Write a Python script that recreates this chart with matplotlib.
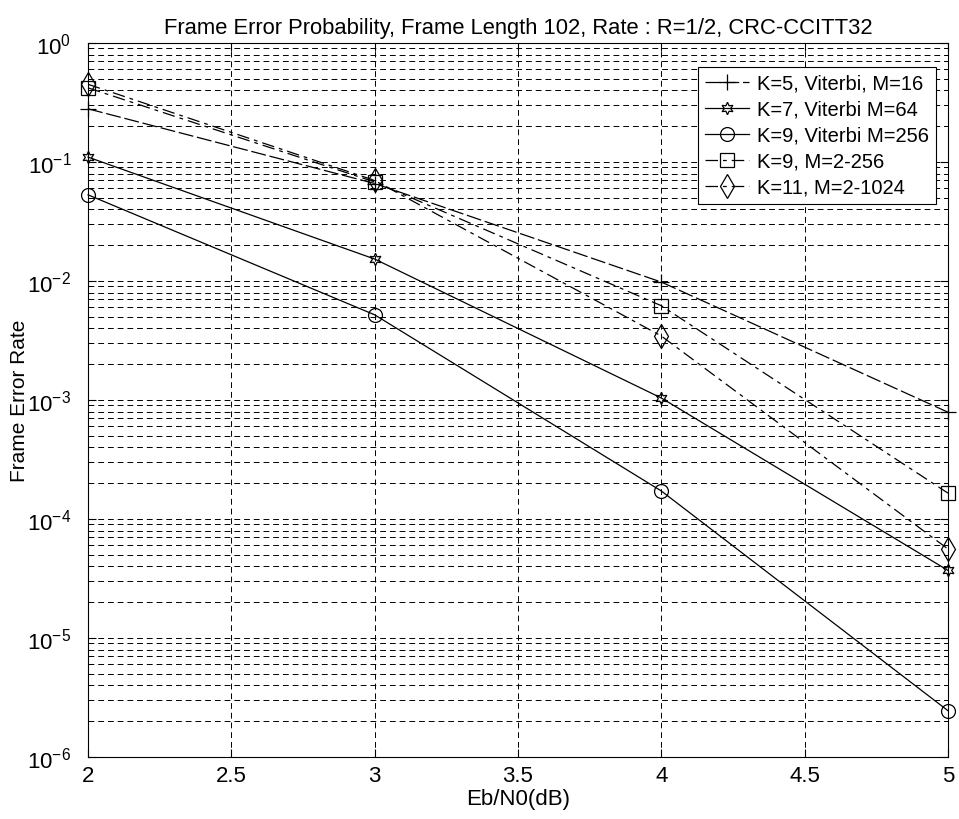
import matplotlib

matplotlib.use("Agg")

import matplotlib.pyplot as plt
import numpy as np
from matplotlib.ticker import LogLocator, NullFormatter

plt.rcParams["font.family"] = ["Liberation Sans", "DejaVu Sans"]

ebn0 = [2, 3, 4, 5]
fer_k5_viterbi = [0.28, 0.066, 0.0098, 7.9e-4]
fer_k7_viterbi = [0.11, 0.0153, 1.04e-3, 3.7e-5]
fer_k9_viterbi = [0.053, 5.2e-3, 1.72e-4, 2.45e-6]
fer_k9_m2_256 = [0.42, 0.068, 6.2e-3, 1.65e-4]
fer_k11_m2_1024 = [0.45, 0.070, 3.45e-3, 5.6e-5]

labels = [
    "K=5, Viterbi, M=16",
    "K=7, Viterbi M=64",
    "K=9, Viterbi M=256",
    "K=9, M=2-256",
    "K=11, M=2-1024",
]

fig = plt.figure(figsize=(9.59, 8.20), dpi=100)
ax = fig.add_axes([0.0918, 0.0756, 0.8967, 0.8707])

common = dict(color="black", linewidth=0.9, markerfacecolor="none",
              markeredgecolor="black", markeredgewidth=0.9, clip_on=False)
dashdot = (0, (10, 4, 3, 4))
ax.plot(ebn0, fer_k5_viterbi, linestyle=(0, (12, 3)), marker="+", markersize=12,
        label=labels[0], **common)
ax.plot(ebn0, fer_k7_viterbi, linestyle="-", marker=(6, 1, 0), markersize=9,
        label=labels[1], **common)
ax.plot(ebn0, fer_k9_viterbi, linestyle="-", marker="o", markersize=10,
        label=labels[2], **common)
ax.plot(ebn0, fer_k9_m2_256, linestyle=dashdot, marker="s", markersize=10,
        label=labels[3], **common)
ax.plot(ebn0, fer_k11_m2_1024, linestyle=dashdot, marker="d", markersize=12,
        label=labels[4], **common)

ax.set_yscale("log")
ax.set_xlim(2, 5)
ax.set_ylim(1e-6, 1)
ax.set_xticks([2, 2.5, 3, 3.5, 4, 4.5, 5])
ax.set_xticklabels(["2", "2.5", "3", "3.5", "4", "4.5", "5"])
ax.yaxis.set_major_locator(LogLocator(base=10, numticks=10))
ax.yaxis.set_minor_locator(LogLocator(base=10, subs=np.arange(2, 10), numticks=20))
ax.yaxis.set_minor_formatter(NullFormatter())

ax.grid(True, which="major", axis="both", color="black", linestyle=(0, (6, 4)), linewidth=0.7)
ax.grid(True, which="minor", axis="y", color="black", linestyle=(0, (6, 4)), linewidth=0.7)
ax.tick_params(which="both", direction="in", top=True, right=True, labelsize=16)
ax.tick_params(axis="x", pad=6)
ax.tick_params(axis="y", pad=12)
ax.tick_params(which="major", length=6)
ax.tick_params(which="minor", length=3)

ax.set_title("Frame Error Probability, Frame Length 102, Rate : R=1/2, CRC-CCITT32",
             fontsize=15.8, pad=7)
ax.set_xlabel("Eb/N0(dB)", fontsize=16, labelpad=1)
ax.set_ylabel("Frame Error Rate", fontsize=15)
ax.yaxis.set_label_coords(-0.069, 0.5)

leg = ax.legend(loc="upper right", bbox_to_anchor=(0.998, 0.981), fontsize=14.5,
                frameon=True, fancybox=False, edgecolor="black", framealpha=1,
                handlelength=2.2, handletextpad=0.4, borderpad=0.35, labelspacing=0.35)
leg.get_frame().set_linewidth(0.8)

fig.savefig("out.png", dpi=100)
plt.close(fig)
